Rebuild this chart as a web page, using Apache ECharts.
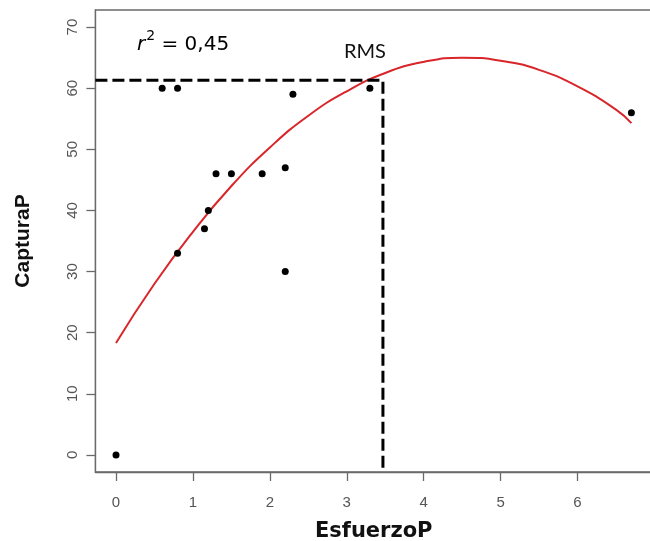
<!DOCTYPE html>
<html>
<head>
<meta charset="utf-8">
<script src="https://cdn.jsdelivr.net/npm/echarts@6/dist/echarts.min.js"></script>
<style>
  html, body { margin: 0; padding: 0; background: #fff; }
  #chart { width: 650px; height: 541px; }
</style>
</head>
<body>
<div id="chart"></div>
<script>
// observed points
const esfuerzo = [0, 0.6, 0.8, 0.8, 1.15, 1.2, 1.3, 1.5, 1.9, 2.2, 2.2, 2.3, 3.3, 6.7];
const captura = [0, 60, 60, 33, 37, 40, 46, 46, 46, 47, 30, 59, 60, 56];

// fitted curve
const curveX = [0, 0.5, 1, 1.5, 2, 2.5, 3, 3.5, 4, 4.5, 5, 5.5, 6, 6.5, 6.7];
const curveY = [18.3, 28.0, 36.5, 44.0, 50.3, 55.5, 59.5, 62.5, 64.3, 65.0, 64.5, 63.0, 60.3, 56.5, 54.3];

// RMS threshold (dashed lines)
const rmsX = 3.47;
const rmsY = 61.3;

const xTicks = [0, 1, 2, 3, 4, 5, 6];
const yTicks = [0, 10, 20, 30, 40, 50, 60, 70];
const xRange = [-0.268, 6.968];
const yRange = [-2.8, 72.8];

const chart = echarts.init(document.getElementById('chart'));

const tickLabel = { fontFamily: 'Liberation Sans', fontSize: 15, color: '#555' };
const axisGrey = { color: '#6a6a6a', width: 1.3 };

chart.setOption({
  backgroundColor: '#fff',
  animation: false,
  grid: {
    left: 95.4, top: 10, width: 556.6, height: 462,
    outerBoundsMode: 'none',
    containLabel: false,
    show: true, borderColor: '#6a6a6a', borderWidth: 1.3
  },
  xAxis: {
    type: 'value',
    min: xRange[0], max: xRange[1],
    name: 'EsfuerzoP',
    nameLocation: 'middle',
    nameGap: 49,
    nameTextStyle: { fontFamily: 'DejaVu Sans', fontWeight: 'bold', fontSize: 21, color: '#111' },
    axisLine: { show: true, onZero: false, lineStyle: axisGrey },
    splitLine: { show: false },
    axisTick: { show: true, length: 9, customValues: xTicks, lineStyle: axisGrey },
    axisLabel: { ...tickLabel, margin: 23, customValues: xTicks }
  },
  yAxis: {
    type: 'value',
    min: yRange[0], max: yRange[1],
    name: 'CapturaP',
    nameLocation: 'middle',
    nameGap: 62,
    nameTextStyle: { fontFamily: 'Liberation Sans', fontWeight: 'bold', fontSize: 21, color: '#111' },
    axisLine: { show: true, onZero: false, lineStyle: axisGrey },
    splitLine: { show: false },
    axisTick: { show: true, length: 9, customValues: yTicks, lineStyle: axisGrey },
    axisLabel: { ...tickLabel, margin: 15, rotate: 90, customValues: yTicks }
  },
  graphic: [
    {
      type: 'text', left: 137, top: 29,
      style: {
        text: '{r|r}{s|2}{n| = 0,45}',
        rich: {
          r: { fontFamily: 'DejaVu Sans', fontStyle: 'italic', fontSize: 20, color: '#222', lineHeight: 26, verticalAlign: 'bottom' },
          s: { fontFamily: 'DejaVu Sans', fontSize: 14, color: '#222', lineHeight: 26, verticalAlign: 'top', padding: [0, 0, 12, 1] },
          n: { fontFamily: 'DejaVu Sans', fontSize: 20, color: '#222', lineHeight: 26, verticalAlign: 'bottom' }
        }
      }
    },
    {
      type: 'text', left: 344, top: 42,
      style: { text: 'RMS', fontFamily: 'Lato', fontSize: 20, fill: '#111' }
    }
  ],
  series: [
    {
      name: 'ajuste',
      type: 'line',
      smooth: true,
      showSymbol: false,
      data: curveX.map((x, i) => [x, curveY[i]]),
      lineStyle: { color: '#d8262a', width: 2 },
      z: 2
    },
    {
      name: 'RMS',
      type: 'line',
      showSymbol: false,
      data: [[xRange[0], rmsY], [rmsX, rmsY], [rmsX, yRange[0]]],
      lineStyle: { color: '#000', width: 3, type: [12, 5] },
      z: 3
    },
    {
      name: 'datos',
      type: 'scatter',
      symbolSize: 7,
      data: esfuerzo.map((x, i) => [x, captura[i]]),
      itemStyle: { color: '#000', opacity: 1 },
      z: 4
    }
  ]
});
</script>
</body>
</html>
